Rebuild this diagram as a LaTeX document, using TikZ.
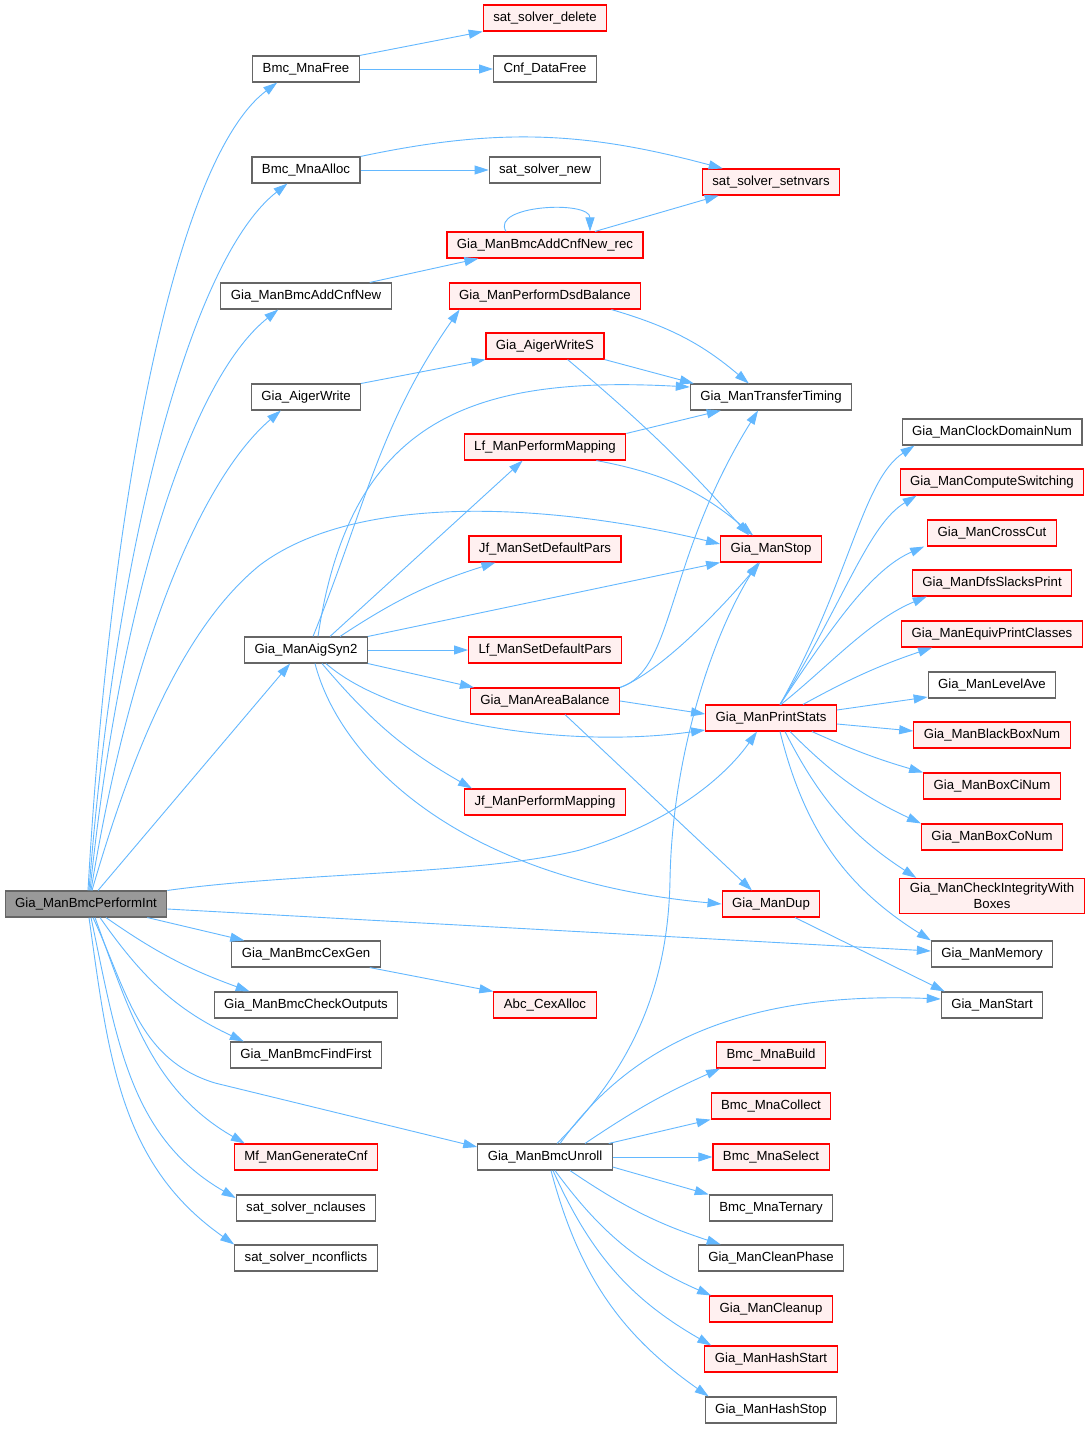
\documentclass[tikz,border=0pt]{standalone}
\usepackage{fontspec}
\setmainfont{Liberation Sans}
\usetikzlibrary{arrows.meta, calc}
\definecolor{callblue}{HTML}{63B8FF}
\definecolor{boxgrey}{HTML}{666666}
\definecolor{mainfill}{HTML}{999999}
\definecolor{truncred}{HTML}{FF0000}
\definecolor{truncfill}{HTML}{FFF0F0}

\begin{document}
\begin{tikzpicture}[x=1pt, y=-1pt, font=\fontsize{13.2}{15.5}\selectfont,
  fn/.style={draw=boxgrey, fill=white, line width=1.1pt, minimum height=26pt, inner xsep=10pt, inner ysep=0pt},
  fnmain/.style={fn, fill=mainfill},
  fntrunc/.style={fn, draw=truncred, fill=truncfill},
  call/.style={draw=callblue, line width=0.9pt, -{Triangle[length=14pt, width=9pt]}}]

  \fill[white] (0,0) rectangle (1090,1429);
  \useasboundingbox (0,0) rectangle (1090,1429);

  % Caller
  \node[fnmain] (M) at (86,904) {Gia\_ManBmcPerformInt};

  % Second column
  \node[fn] (mnaFree) at (306,69) {Bmc\_MnaFree};
  \node[fn] (mnaAlloc) at (306,170) {Bmc\_MnaAlloc};
  \node[fn] (addCnf) at (306,296) {Gia\_ManBmcAddCnfNew};
  \node[fn] (aigerWrite) at (306,397) {Gia\_AigerWrite};
  \node[fn] (aigSyn) at (306,650) {Gia\_ManAigSyn2};
  \node[fn] (cexGen) at (306,954) {Gia\_ManBmcCexGen};
  \node[fn] (checkOut) at (306,1005) {Gia\_ManBmcCheckOutputs};
  \node[fn] (findFirst) at (306,1055) {Gia\_ManBmcFindFirst};
  \node[fntrunc] (mfCnf) at (306,1157) {Mf\_ManGenerateCnf};
  \node[fn] (nclauses) at (306,1208) {sat\_solver\_nclauses};
  \node[fn] (nconflicts) at (306,1258) {sat\_solver\_nconflicts};

  % Third column
  \node[fntrunc] (solDelete) at (545,18) {sat\_solver\_delete};
  \node[fn] (cnfFree) at (545,69) {Cnf\_DataFree};
  \node[fn] (solNew) at (545,170) {sat\_solver\_new};
  \node[fntrunc] (addCnfRec) at (545,245) {Gia\_ManBmcAddCnfNew\_rec};
  \node[fntrunc] (dsdBal) at (545,296) {Gia\_ManPerformDsdBalance};
  \node[fntrunc] (aigerWriteS) at (545,346) {Gia\_AigerWriteS};
  \node[fntrunc] (lfMap) at (545,447) {Lf\_ManPerformMapping};
  \node[fntrunc] (jfPars) at (545,549) {Jf\_ManSetDefaultPars};
  \node[fntrunc] (lfPars) at (545,650) {Lf\_ManSetDefaultPars};
  \node[fntrunc] (areaBal) at (545,701) {Gia\_ManAreaBalance};
  \node[fntrunc] (jfMap) at (545,802) {Jf\_ManPerformMapping};
  \node[fntrunc] (cexAlloc) at (545,1005) {Abc\_CexAlloc};
  \node[fn] (unroll) at (545,1157) {Gia\_ManBmcUnroll};

  % Fourth column
  \node[fntrunc] (setnvars) at (771,182) {sat\_solver\_setnvars};
  \node[fn] (transfer) at (771,397) {Gia\_ManTransferTiming};
  \node[fntrunc] (stop) at (771,549) {Gia\_ManStop};
  \node[fntrunc] (printStats) at (771,718) {Gia\_ManPrintStats};
  \node[fntrunc] (dup) at (771,904) {Gia\_ManDup};
  \node[fntrunc] (mnaBuild) at (771,1055) {Bmc\_MnaBuild};
  \node[fntrunc] (mnaCollect) at (771,1106) {Bmc\_MnaCollect};
  \node[fntrunc] (mnaSelect) at (771,1157) {Bmc\_MnaSelect};
  \node[fn] (mnaTernary) at (771,1208) {Bmc\_MnaTernary};
  \node[fn] (cleanPhase) at (771,1258) {Gia\_ManCleanPhase};
  \node[fntrunc] (cleanup) at (771,1309) {Gia\_ManCleanup};
  \node[fntrunc] (hashStart) at (771,1359) {Gia\_ManHashStart};
  \node[fn] (hashStop) at (771,1410) {Gia\_ManHashStop};

  % Fifth column
  \node[fn] (clockDom) at (992,432) {Gia\_ManClockDomainNum};
  \node[fntrunc] (switching) at (992,482) {Gia\_ManComputeSwitching};
  \node[fntrunc] (crossCut) at (992,533) {Gia\_ManCrossCut};
  \node[fntrunc] (slacks) at (992,583) {Gia\_ManDfsSlacksPrint};
  \node[fntrunc] (equiv) at (992,634) {Gia\_ManEquivPrintClasses};
  \node[fn] (levelAve) at (992,685) {Gia\_ManLevelAve};
  \node[fntrunc] (blackBox) at (992,735) {Gia\_ManBlackBoxNum};
  \node[fntrunc] (boxCi) at (992,786) {Gia\_ManBoxCiNum};
  \node[fntrunc] (boxCo) at (992,837) {Gia\_ManBoxCoNum};
  \node[fntrunc, align=center, inner ysep=5pt] (integrity) at (992,896) {Gia\_ManCheckIntegrityWith\\Boxes};
  \node[fn] (memory) at (992,954) {Gia\_ManMemory};
  \node[fn] (start) at (992,1005) {Gia\_ManStart};

  % Calls of Gia_ManBmcPerformInt
  \draw[call] ([xshift=2pt]M.north) .. controls (110,500) and (175,160) .. ([xshift=25pt]mnaFree.south west);
  \draw[call] ([xshift=3pt]M.north) .. controls (115,550) and (190,260) .. ([xshift=36pt]mnaAlloc.south west);
  \draw[call] ([xshift=4pt]M.north) .. controls (120,600) and (190,380) .. ([xshift=58pt]addCnf.south west);
  \draw[call] ([xshift=5pt]M.north) .. controls (130,650) and (200,480) .. ([xshift=30pt]aigerWrite.south west);
  \draw[call] ([xshift=12pt]M.north) -- ([xshift=46pt]aigSyn.south west);
  \draw[call] ([xshift=6pt]M.north) .. controls (130,760) and (180,630) .. (260,565)
    .. controls (360,490) and (560,505) .. ([yshift=5pt]stop.west);
  \draw[call] (M.north east) .. controls (300,872) and (480,875) .. (580,850)
    .. controls (680,820) and (730,770) .. ([xshift=-14pt]printStats.south);
  \draw[call] ([yshift=-5pt]M.east) -- ([yshift=3pt]memory.west);
  \draw[call] ([xshift=-20pt]M.south east) -- ([xshift=13pt]cexGen.north west);
  \draw[call] ([xshift=20pt]M.south) to[out=-35, in=160] ([xshift=36pt]checkOut.north west);
  \draw[call] ([xshift=14pt]M.south) to[out=-55, in=155] ([xshift=14pt]findFirst.north west);
  \draw[call] ([xshift=9pt]M.south) to[out=-70, in=150] ([xshift=11pt]mfCnf.north west);
  \draw[call] ([xshift=7pt]M.south) to[out=-65, in=163] (215,1083) -- ([yshift=10pt]unroll.west);
  \draw[call] ([xshift=5pt]M.south) to[out=-78, in=150] ([yshift=10pt]nclauses.west);
  \draw[call] ([xshift=3pt]M.south) to[out=-82, in=145] (nconflicts.north west);

  % Second column calls
  \draw[call] (mnaFree.north east) -- (solDelete.south west);
  \draw[call] (mnaFree) -- (cnfFree);
  \draw[call] (mnaAlloc) -- (solNew);
  \draw[call] (mnaAlloc.north east) to[out=12, in=165] ([xshift=21pt]setnvars.north west);
  \draw[call] ([xshift=-22pt]addCnf.north east) -- ([xshift=32pt]addCnfRec.south west);
  \draw[call] (aigerWrite.north east) -- (aigerWriteS.south west);
  \draw[call] ([xshift=-11pt]cexGen.south east) -- (cexAlloc.north west);

  % Gia_ManAigSyn2
  \draw[call] ([xshift=7pt]aigSyn.north) to[out=68, in=-125] ([xshift=11pt]dsdBal.south west);
  \draw[call] ([xshift=12pt]aigSyn.north) .. controls (350,420) and (470,375) .. ([yshift=10pt]transfer.west);
  \draw[call] ([xshift=24pt]aigSyn.north) -- ([xshift=59pt]lfMap.south west);
  \draw[call] ([xshift=34pt]aigSyn.north) to[bend left=8] ([xshift=27pt]jfPars.south west);
  \draw[call] (aigSyn.north east) -- (stop.south west);
  \draw[call] (aigSyn) -- (lfPars);
  \draw[call] (aigSyn.south east) -- ([xshift=4pt]areaBal.north west);
  \draw[call] ([xshift=20pt]aigSyn.south) .. controls (390,720) and (560,750) .. ([yshift=-12pt]printStats.west);
  \draw[call] ([xshift=16pt]aigSyn.south) to[bend right=10] ([xshift=8pt]jfMap.north west);
  \draw[call] ([xshift=9pt]aigSyn.south) .. controls (340,760) and (460,880) .. (dup.west);

  % Third column calls
  \draw[call] ([xshift=-39pt]addCnfRec.north) .. controls (490,205) and (590,200) .. ([xshift=45pt]addCnfRec.north);
  \draw[call] ([xshift=50pt]addCnfRec.north) -- ([xshift=17pt]setnvars.south west);
  \draw[call] ([xshift=-30pt]dsdBal.south east) to[bend left=12] ([xshift=59pt]transfer.north west);
  \draw[call] (aigerWriteS.south east) -- ([xshift=4pt]transfer.north west);
  \draw[call] ([xshift=-37pt]aigerWriteS.south east) to[bend left=4] ([xshift=29pt]stop.north west);
  \draw[call] (lfMap.north east) -- ([xshift=31pt]transfer.south west);
  \draw[call] ([xshift=-30pt]lfMap.south east) to[bend left=15] ([xshift=33pt]stop.north west);
  \draw[call] (areaBal.north east) .. controls (675,670) and (665,560) .. ([xshift=-13pt]transfer.south);
  \draw[call] (areaBal.north east) .. controls (660,672) and (720,610) .. ([xshift=-11pt]stop.south);
  \draw[call] (areaBal.east) -- ([yshift=4pt]printStats.west);
  \draw[call] ([xshift=20pt]areaBal.south) -- ([xshift=-19pt]dup.north);

  % Gia_ManPrintStats
  \draw[call] ([xshift=9pt]printStats.north) .. controls (850,580) and (862,480) .. ([xshift=13pt]clockDom.south west);
  \draw[call] ([xshift=9pt]printStats.north) .. controls (845,600) and (868,525) .. ([xshift=17pt]switching.south west);
  \draw[call] ([xshift=9pt]printStats.north) .. controls (830,630) and (870,570) .. ([xshift=-3pt]crossCut.south west);
  \draw[call] ([xshift=10pt]printStats.north) .. controls (830,665) and (870,620) .. ([xshift=15pt]slacks.south west);
  \draw[call] ([xshift=32pt]printStats.north) to[bend left=5] ([xshift=31pt]equiv.south west);
  \draw[call] ([yshift=8pt]printStats.east) -- ([yshift=-12pt]levelAve.west);
  \draw[call] ([yshift=-6pt]printStats.east) -- ([yshift=4pt]blackBox.west);
  \draw[call] ([xshift=-25pt]printStats.south east) to[bend right=4] (boxCi.north west);
  \draw[call] ([xshift=19pt]printStats.south) to[bend right=10] (boxCo.north west);
  \draw[call] ([xshift=14pt]printStats.south) to[bend right=15] ([xshift=17pt]integrity.north west);
  \draw[call] ([xshift=9pt]printStats.south) to[bend right=22] (memory.north west);
  \draw[call] ([xshift=24pt]dup.south) -- ([xshift=4pt]start.north west);

  % Gia_ManBmcUnroll
  \draw[call] ([xshift=12pt]unroll.north) .. controls (630,1070) and (668,990) .. (670,880)
    .. controls (672,760) and (710,640) .. ([xshift=-13pt]stop.south);
  \draw[call] ([xshift=15pt]unroll.north) .. controls (620,1060) and (720,990) .. ([yshift=6pt]start.west);
  \draw[call] ([xshift=40pt]unroll.north) to[bend left=5] ([xshift=4pt]mnaBuild.south west);
  \draw[call] ([xshift=-4pt]unroll.north east) -- (mnaCollect.south west);
  \draw[call] (unroll) -- (mnaSelect);
  \draw[call] ([yshift=-10pt]unroll.east) -- (mnaTernary.north west);
  \draw[call] ([xshift=25pt]unroll.south) to[bend right=8] ([xshift=23pt]cleanPhase.north west);
  \draw[call] ([xshift=10pt]unroll.south) to[bend right=15] ([xshift=2pt]cleanup.north west);
  \draw[call] ([xshift=8pt]unroll.south) to[bend right=18] ([xshift=7pt]hashStart.north west);
  \draw[call] ([xshift=6pt]unroll.south) to[bend right=20] ([xshift=4pt]hashStop.north west);
\end{tikzpicture}
\end{document}
